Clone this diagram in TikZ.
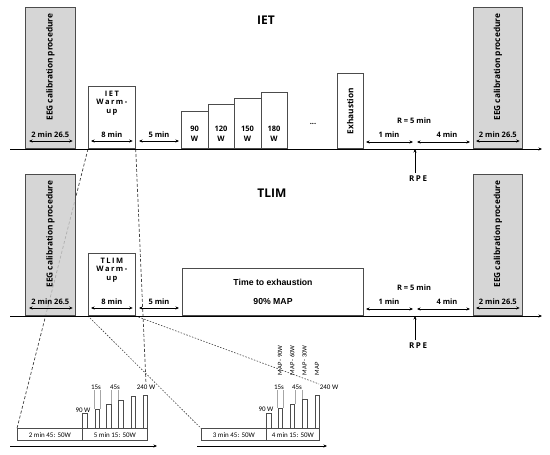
\documentclass[tikz,border=0pt]{standalone}
\usepackage{fontspec}
\setmainfont{Open Sans}
\newfontfamily\spacedfont[LetterSpace=20]{Open Sans}
\newfontfamily\arialfont{Liberation Sans}
\newfontfamily\calfont{Carlito}
\usetikzlibrary{arrows.meta, positioning, backgrounds}
\tikzset{
  phase/.style={draw=black!70, line width=0.7pt, inner sep=0pt, anchor=south west},
  calib/.style={phase, fill=black!20, fill opacity=0.8},
  dim/.style={<->, line width=0.6pt},
  lbl/.style={font=\fontsize{7.5}{10}\selectfont\bfseries, inner sep=0.5pt},
  vlbl/.style={rotate=90, font=\fontsize{8.3}{9}\selectfont\bfseries, inner sep=0.5pt},
  spaced/.style={font=\spacedfont\bfseries\fontsize{7.5}{8.5}\selectfont, inner sep=0.5pt},
  title/.style={font=\fontsize{12}{14}\selectfont\bfseries},
  small/.style={font=\calfont\fontsize{7}{8}\selectfont, inner sep=0.5pt},
  bar/.style={phase, minimum width=4.5pt},
  tick/.style={black!35, line width=0.4pt},
  zoomA/.style={black!75, dash pattern=on 3pt off 2pt, line width=0.7pt},
  zoomB/.style={black!75, dash pattern=on 1.5pt off 1.5pt, line width=0.6pt}
}

\begin{document}
\begin{tikzpicture}[x=1pt, y=-1pt, >={Stealth[length=3.5pt, width=3pt]}]
  \useasboundingbox (0,0) rectangle (550,455);
  % titles
  \node[title] (tiet) at (266,20) {IET};
  \node[title] (ttlim) at (272,193) {TLIM};
  % parts shared by both protocols
  \foreach \r/\y/\w in {a/149/IET, b/316/TLIM}{
    \coordinate (s\r) at (10,\y);
    \coordinate (e\r) at (542,\y);
    \draw[->, line width=0.7pt] (s\r) -- (e\r);
    % calibration before
    \node[calib, minimum width=50pt, minimum height=141pt] (eegL\r) at (25,\y) {};
    \node[vlbl] (eegLt\r) at ([yshift=11pt]eegL\r.center) {EEG calibration procedure};
    \node[lbl] (cL\r) at ([yshift=14pt]eegL\r.south) {2 min 26.5};
    \draw[dim] ([shift={(4pt,8pt)}]eegL\r.south west) -- ([shift={(-3pt,8pt)}]eegL\r.south east);
    % warm-up
    \node[phase, minimum width=47pt, minimum height=62pt] (wu\r) at (88,\y) {};
    \node[spaced, align=center, below=4pt of wu\r.north] (wut\r) {\w\\Warm-\\up};
    \node[lbl] (c8\r) at ([yshift=14pt]wu\r.south) {8 min};
    \draw[dim] ([shift={(3pt,8pt)}]wu\r.south west) -- ([shift={(-3pt,8pt)}]wu\r.south east);
    % rest
    \coordinate (r5a\r) at (139,\y-8);
    \coordinate (r5b\r) at (179,\y-8);
    \draw[dim] (r5a\r) -- (r5b\r);
    \node[lbl] (c5\r) at (159,\y-14) {5 min};
    % recovery and RPE
    \node[lbl] (rr\r) at (414,\y-28) {R = 5 min};
    \coordinate (rp\r) at (415,\y);
    \coordinate (r1a\r) at (366,\y-7);
    \coordinate (r1b\r) at (413,\y-7);
    \coordinate (r4a\r) at (417,\y-7);
    \coordinate (r4b\r) at (470,\y-7);
    \draw[dim] (r1a\r) -- (r1b\r);
    \draw[dim] (r4a\r) -- (r4b\r);
    \node[lbl] (c1\r) at (389,\y-14) {1 min};
    \node[lbl] (c4\r) at (447,\y-14) {4 min};
    \node[font=\spacedfont\bfseries\fontsize{8}{9}\selectfont] (rpe\r) at (418,\y+30) {RPE};
    \draw[->, line width=0.7pt] (rpe\r.north -| rp\r) -- (rp\r);
    % calibration after
    \node[calib, minimum width=49pt, minimum height=141pt] (eegR\r) at (473,\y) {};
    \node[vlbl] (eegRt\r) at ([yshift=11pt]eegR\r.center) {EEG calibration procedure};
    \node[lbl] (cR\r) at ([yshift=14pt]eegR\r.south) {2 min 26.5};
    \draw[dim] ([shift={(3pt,8pt)}]eegR\r.south west) -- ([shift={(-3pt,8pt)}]eegR\r.south east);
  }
  % IET steps
  \foreach \i/\x/\h/\p in {1/181/37/90, 2/207.5/44/120, 3/234/50/150, 4/260.5/56/180}{
    \node[phase, minimum width=26.5pt, minimum height=\h pt] (st\i) at (\x,149) {};
    \node[lbl, align=center] (stt\i) at ([yshift=15pt]st\i.south) {\p\\W};
  }
  \node[lbl] (dots) at (313,124) {...};
  \node[phase, minimum width=26pt, minimum height=75pt] (exh) at (337,149) {};
  \node[vlbl] (exht) at (exh.center) {Exhaustion};
  % TLIM bout
  \node[phase, minimum width=181pt, minimum height=47pt] (tte) at (182,316) {};
  \node[font=\arialfont\bfseries\fontsize{8.7}{10}\selectfont] (ttet) at (273,282) {Time to exhaustion};
  \node[font=\arialfont\bfseries\fontsize{8.7}{10}\selectfont] (map) at (273,302) {90\% MAP};

  % IET warm-up detail
  \coordinate (dLs) at (10,446);
  \coordinate (dLe) at (157,446);
  \draw[->, line width=0.6pt] (dLs) -- (dLe);
  \node[phase, small, minimum width=65pt, minimum height=12pt] (ph1) at (17,441) {2 min 45: 50W};
  \node[phase, small, minimum width=65pt, minimum height=12pt] (ph2) at (82,441) {5 min 15: 50W};
  \foreach \i/\x/\h in {1/82/15, 2/94.5/19, 3/106/24, 4/118/28, 5/130.5/32, 6/142.5/33}
    \node[bar, minimum height=\h pt] (bL\i) at (\x,429) {};
  \node[small] (wL90) at (83,410) {90 W};
  \node[small] (sL15) at (96,387) {15s};
  \node[small] (sL45) at (115,387) {45s};
  \node[small] (wL240) at (146,387) {240 W};
  \draw[tick] (sL15.south -| bL2.west) -- (bL2.north west);
  \draw[tick] (sL15.south -| bL2.east) -- (bL2.north east);
  \draw[tick] (sL45.south -| bL3.east) -- (bL3.north east);
  \draw[tick] (sL45.south -| bL4.west) -- (bL4.north west);

  % TLIM warm-up detail
  \coordinate (dRs) at (197,446);
  \coordinate (dRe) at (327,446);
  \draw[->, line width=0.6pt] (dRs) -- (dRe);
  \node[phase, small, minimum width=65pt, minimum height=12pt] (ph3) at (201,441) {3 min 45: 50W};
  \node[phase, small, minimum width=53pt, minimum height=12pt] (ph4) at (266,441) {4 min 15: 50W};
  \foreach \i/\x/\h in {1/266/15, 2/277.5/20, 3/289.5/24, 4/302/29, 5/314.5/33}
    \node[bar, minimum height=\h pt] (bR\i) at (\x,429) {};
  \node[small] (wR90) at (266,409) {90 W};
  \node[small] (sR15) at (279,387) {15s};
  \node[small] (sR45) at (297,387) {45s};
  \node[small] (wR240) at (329,387) {240 W};
  \coordinate (mapbase) at (0,376);
  \foreach \i/\t in {2/MAP - 90W, 3/MAP - 60W, 4/MAP - 30W, 5/MAP}
    \node[small, font=\calfont\fontsize{6.5}{7}\selectfont, rotate=90, anchor=west] (m\i) at (bR\i.center |- mapbase) {\t};
  \draw[tick] (sR15.south -| bR2.west) -- (bR2.north west);
  \draw[tick] (sR15.south -| bR2.east) -- (bR2.north east);
  \draw[tick] (sR45.south -| bR3.east) -- (bR3.north east);
  \draw[tick] (sR45.south -| bR4.west) -- (bR4.north west);

  % zoom lines
  \begin{scope}[on background layer]
    \draw[zoomA] (wua.south west) -- (ph1.north west);
    \draw[zoomA] (wua.south east) -- (wL240.north);
    \draw[zoomB] (wub.south west) -- (ph3.north west);
    \draw[zoomB] (wub.south east) -- (wR240.north west);
  \end{scope}
\end{tikzpicture}
\end{document}
